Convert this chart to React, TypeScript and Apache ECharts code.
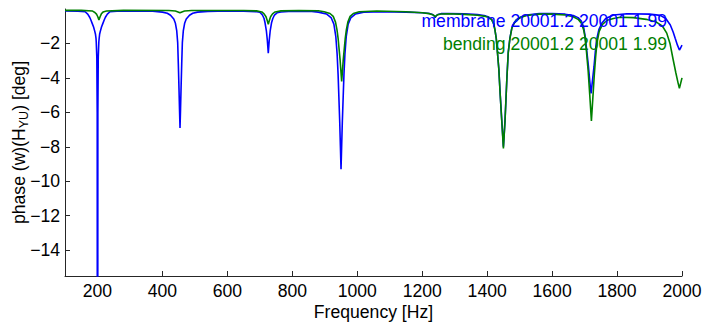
import React, { useEffect, useRef } from "react";
import * as echarts from "echarts";

// Frequency [Hz], phase [deg]
const membrane: [number, number][] = [
  [100, -0.12], [140, -0.13], [162, -0.16], [170, -0.3], [176, -0.48], [179.7, -0.64],
  [184, -0.85], [188, -1.05], [191.7, -1.3], [193.7, -1.45], [195.5, -1.7], [196.2, -1.9],
  [198, -2.8], [199.2, -6], [200.2, -60], [201.2, -6], [202.4, -2.8], [204.2, -1.9],
  [205.2, -1.7], [206.7, -1.45], [208.7, -1.3], [212.4, -1.05], [216.4, -0.85], [220.7, -0.64],
  [224.4, -0.48], [230.4, -0.3], [238.4, -0.16], [260, -0.13], [320, -0.12], [370, -0.13],
  [400, -0.18], [415, -0.25], [425, -0.36], [435, -0.58], [440, -0.83], [444, -1.25],
  [447, -1.95], [449, -3.2], [451, -4.6], [452.6, -5.8], [454.2, -6.9], [455.8, -5.8],
  [457.4, -4.6], [459.4, -3.2], [461.4, -1.95], [464.4, -1.25], [468.4, -0.83], [473.4, -0.58],
  [483.4, -0.36], [493.4, -0.25], [508, -0.18], [540, -0.14], [600, -0.12], [650, -0.13],
  [690, -0.16], [700, -0.19], [708, -0.35], [713, -0.55], [716, -0.8], [720, -1.25],
  [723, -1.8], [726, -2.57], [729, -1.8], [732, -1.25], [736, -0.8], [740, -0.55],
  [745, -0.35], [753, -0.22], [765, -0.17], [800, -0.13], [860, -0.14], [880, -0.18],
  [905, -0.29], [920, -0.52], [928, -0.88], [934, -1.61], [938, -2.62], [941, -3.81],
  [943.5, -5.18], [946, -6.56], [948, -7.93], [950, -9.3], [952, -7.93], [954, -6.56],
  [956.5, -5.18], [959, -3.81], [962, -2.62], [966, -1.61], [972, -0.88], [980, -0.52],
  [995, -0.29], [1020, -0.18], [1080, -0.16], [1150, -0.18], [1200, -0.22], [1222, -0.26],
  [1232, -0.32], [1237, -0.4], [1240, -0.5], [1243, -0.4], [1248, -0.32], [1258, -0.27],
  [1280, -0.26], [1330, -0.28], [1370, -0.32], [1395, -0.4], [1405, -0.47], [1414, -0.6],
  [1420, -0.85], [1424, -1.2], [1428, -1.7], [1431, -2.35], [1436, -3.5], [1440, -4.9],
  [1445, -6.45], [1450, -8.0], [1455, -6.45], [1458, -5.2], [1461, -3.9], [1465, -2.5],
  [1470, -1.7], [1476, -1.1], [1483, -0.8], [1491, -0.6], [1505, -0.45], [1522, -0.35],
  [1560, -0.27], [1600, -0.26], [1640, -0.3], [1665, -0.38], [1680, -0.5], [1690, -0.7],
  [1697, -1.05], [1701, -1.5], [1706, -2.3], [1712, -3.35], [1716, -4.2], [1720, -4.9],
  [1724, -4.2], [1729, -3.35], [1733, -2.5], [1737, -1.8], [1744, -1.2], [1753, -0.83],
  [1765, -0.55], [1789, -0.35], [1830, -0.28], [1900, -0.3], [1933, -0.37], [1950, -0.55],
  [1964, -0.93], [1973, -1.35], [1979, -1.7], [1986, -2.1], [1992, -2.38], [1996, -2.25],
  [2000, -2.1],
];

const bending: [number, number][] = [
  [100, -0.08], [150, -0.08], [185, -0.12], [192, -0.2], [197, -0.3], [201, -0.45],
  [204.5, -0.64], [208, -0.45], [212, -0.28], [217, -0.18], [228, -0.12], [280, -0.08],
  [420, -0.09], [440, -0.12], [448, -0.17], [454, -0.22], [460, -0.17], [468, -0.12],
  [490, -0.09], [650, -0.09], [690, -0.11], [706, -0.17], [713, -0.28], [719, -0.45],
  [723, -0.68], [726, -0.89], [729, -0.68], [733, -0.45], [739, -0.28], [747, -0.17],
  [765, -0.11], [820, -0.09], [880, -0.1], [898, -0.16], [916, -0.26], [926, -0.43],
  [933, -0.76], [937.6, -1.21], [941.2, -1.74], [944.2, -2.36], [947.2, -2.97], [949.6, -3.59],
  [952, -4.2], [954.4, -3.59], [956.8, -2.97], [959.8, -2.36], [962.8, -1.74], [966.4, -1.21],
  [971, -0.76], [978, -0.43], [988, -0.26], [1006, -0.16], [1060, -0.12], [1150, -0.16],
  [1200, -0.22], [1222, -0.27], [1232, -0.33], [1237, -0.39], [1240, -0.45], [1243, -0.39],
  [1248, -0.33], [1258, -0.29], [1280, -0.28], [1330, -0.31], [1370, -0.36], [1395, -0.43],
  [1405, -0.5], [1414, -0.62], [1420, -0.87], [1424, -1.22], [1428, -1.72], [1431, -2.38],
  [1436, -3.52], [1440, -4.93], [1445, -6.5], [1450, -8.1], [1455, -6.5], [1458, -5.22],
  [1461, -3.92], [1465, -2.52], [1470, -1.72], [1476, -1.12], [1483, -0.82], [1491, -0.63],
  [1505, -0.48], [1522, -0.38], [1560, -0.3], [1600, -0.3], [1640, -0.35], [1665, -0.45],
  [1680, -0.6], [1690, -0.82], [1697, -1.2], [1701, -1.6], [1706, -2.5], [1711, -3.6],
  [1716, -5.0], [1721, -6.5], [1726, -5.0], [1730, -3.8], [1734, -2.8], [1738, -2.0],
  [1745, -1.3], [1755, -0.9], [1770, -0.65], [1789, -0.55], [1810, -0.48], [1850, -0.5],
  [1890, -0.6], [1920, -0.75], [1940, -1.0], [1953, -1.4], [1963, -2.0], [1973, -2.96],
  [1981, -3.7], [1988, -4.3], [1992, -4.6], [1996, -4.3], [2000, -4.0],
];

const xTicks = [200, 400, 600, 800, 1000, 1200, 1400, 1600, 1800, 2000];
const yTicks = [-14, -12, -10, -8, -6, -4, -2];
const labelMembrane = "membrane 20001.2 20001 1.99";
const labelBending = "bending 20001.2 20001 1.99";

const FONT = '"Liberation Sans", Arial, Helvetica, sans-serif';
const AXIS = "#262626";
const FS = 17.6;

export default function App() {
  const ref = useRef<HTMLDivElement>(null);
  useEffect(() => {
    const chart = echarts.init(ref.current!, null, { renderer: "svg" });
    chart.setOption({
      animation: false,
      backgroundColor: "#ffffff",
      grid: { left: 65, right: 20, top: 9, bottom: 48, containLabel: false, outerBoundsMode: "none" },
      xAxis: {
        type: "value",
        min: 100,
        max: 2000,
        name: "Frequency [Hz]",
        nameLocation: "middle",
        nameGap: 27,
        nameMoveOverlap: false,
        nameTextStyle: { fontSize: FS, fontFamily: FONT, color: "#000" },
        axisLine: { show: true, onZero: false, lineStyle: { color: AXIS, width: 1 } },
        axisTick: { show: true, inside: true, length: 5, customValues: xTicks, lineStyle: { color: AXIS } },
        axisLabel: {
          customValues: xTicks,
          fontSize: FS,
          fontFamily: FONT,
          color: "#000",
          margin: 6,
          formatter: (v: number) => String(v),
        },
        splitLine: { show: false },
      },
      yAxis: {
        type: "value",
        min: -15.5,
        max: 0,
        name: "{a|phase (w)(H}{s|YU}{a|) [deg]}",
        nameLocation: "middle",
        nameRotate: 90,
        nameGap: 35,
        nameMoveOverlap: false,
        nameTextStyle: {
          fontSize: FS,
          fontFamily: FONT,
          color: "#000",
          rich: {
            a: { fontSize: FS, fontFamily: FONT, color: "#000", lineHeight: 22 },
            s: { fontSize: 12.5, fontFamily: FONT, color: "#000", lineHeight: 12, verticalAlign: "bottom" },
          },
        },
        axisLine: { show: true, onZero: false, lineStyle: { color: AXIS, width: 1 } },
        axisTick: { show: true, inside: true, length: 5, customValues: yTicks, lineStyle: { color: AXIS } },
        axisLabel: {
          customValues: yTicks,
          fontSize: FS,
          fontFamily: FONT,
          color: "#000",
          margin: 5,
          formatter: (v: number) => String(v).replace("-", "\u2212"),
        },
        splitLine: { show: false },
      },
      series: [
        {
          type: "line",
          name: "membrane",
          data: membrane,
          showSymbol: false,
          symbol: "none",
          clip: true,
          lineStyle: { color: "#0000ff", width: 1.6 },
          itemStyle: { color: "#0000ff" },
        },
        {
          type: "line",
          name: "bending",
          data: bending,
          showSymbol: false,
          symbol: "none",
          clip: true,
          lineStyle: { color: "#008000", width: 1.6 },
          itemStyle: { color: "#008000" },
        },
      ],
      graphic: [
        {
          type: "text",
          x: 667,
          y: 21,
          z: 10,
          style: {
            text: labelMembrane,
            fill: "#0000ff",
            fontSize: FS,
            fontFamily: FONT,
            align: "right",
            textAlign: "right",
            verticalAlign: "middle",
            textVerticalAlign: "middle",
          },
        },
        {
          type: "text",
          x: 667,
          y: 44,
          z: 10,
          style: {
            text: labelBending,
            fill: "#008000",
            fontSize: FS,
            fontFamily: FONT,
            align: "right",
            textAlign: "right",
            verticalAlign: "middle",
            textVerticalAlign: "middle",
          },
        },
      ],
    });
    return () => chart.dispose();
  }, []);
  return (
    <div
      ref={ref}
      style={{ position: "fixed", left: 0, top: 0, width: 702, height: 324, background: "#fff" }}
    />
  );
}
